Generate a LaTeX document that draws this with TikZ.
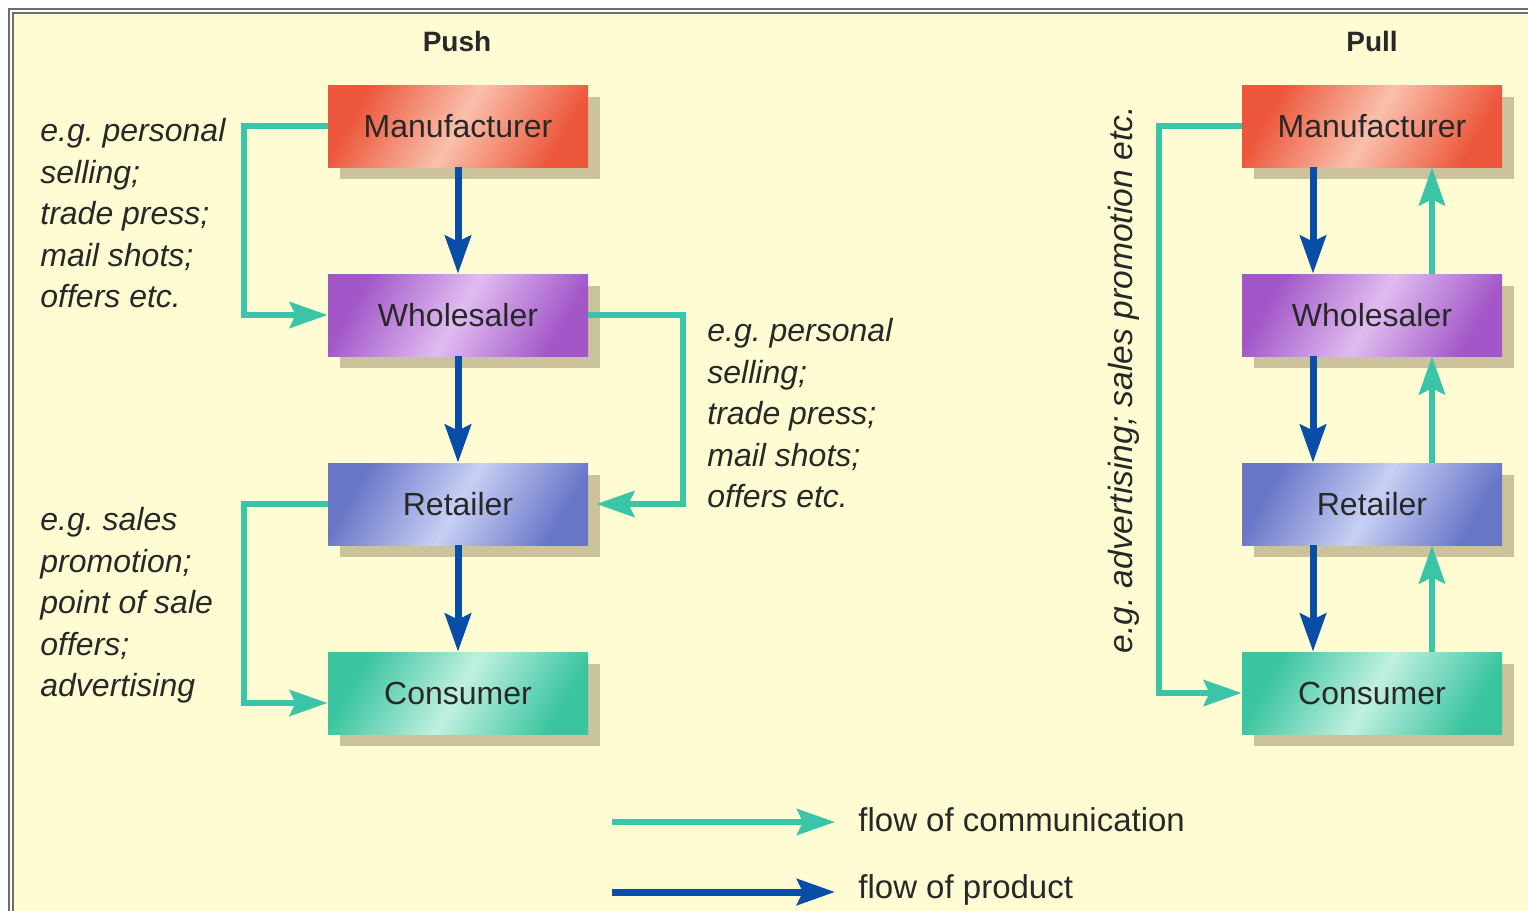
\documentclass[tikz,border=0pt]{standalone}
\usepackage{fontspec}
\setmainfont{Liberation Sans}
\usetikzlibrary{graphs}
\usetikzlibrary{shadows}
\usetikzlibrary{arrows.meta}
\definecolor{paper}{RGB}{255,252,212}
\definecolor{framec}{RGB}{110,110,110}
\definecolor{ink}{RGB}{40,40,40}
\definecolor{commc}{RGB}{58,196,168}
\definecolor{prodc}{RGB}{8,78,166}
\definecolor{shadowc}{RGB}{204,194,156}
\definecolor{redA}{RGB}{236,86,58}
\definecolor{redB}{RGB}{250,192,172}
\definecolor{purA}{RGB}{162,86,200}
\definecolor{purB}{RGB}{224,188,240}
\definecolor{bluA}{RGB}{104,118,200}
\definecolor{bluB}{RGB}{200,208,244}
\definecolor{grnA}{RGB}{58,196,160}
\definecolor{grnB}{RGB}{192,240,224}
\tikzset{
  box/.style= {minimum width=130pt, minimum height=41pt, inner sep=0,
    font=\fontsize{16}{19}\selectfont, text=ink,
    drop shadow={shadow xshift=6pt, shadow yshift=-6pt, fill=shadowc, opacity=1}},
  mbox/.style= {box, left color=redA, right color=redA, middle color=redB, shading angle=60},
  wbox/.style= {box, left color=purA, right color=purA, middle color=purB, shading angle=60},
  rbox/.style= {box, left color=bluA, right color=bluA, middle color=bluB, shading angle=60},
  cbox/.style= {box, left color=grnA, right color=grnA, middle color=grnB, shading angle=60},
  title/.style= {font=\bfseries\fontsize{14}{17}\selectfont, text=ink},
  note/.style= {anchor=north west, align=left, inner sep=0, text=ink,
    font=\itshape\fontsize{16}{20.75}\selectfont},
  legend/.style= {anchor=west, inner sep=0, text=ink, font=\fontsize{16.5}{19}\selectfont},
  comm/.style= {draw=commc, line width=3pt, -{Stealth[length=19pt, width=13pt, inset=3pt]}},
  product/.style= {draw=prodc, line width=3.5pt, -{Stealth[length=19pt, width=13pt, inset=3pt]}},
}
\frenchspacing

\begin{document}
\begin{tikzpicture}[x=0.5pt, y=-0.5pt]
  \useasboundingbox (0,0) rectangle (1528,911);
  \clip (0,0) rectangle (1528,911);
  \fill [white] (0,0) rectangle (1528,911);
  \draw [framec, line width=1pt] (8.5,8.5) rectangle (1600,1000);
  \draw [framec, fill=paper, line width=1pt] (12.5,12.5) rectangle (1600,1000);

  \node [title] (t1) at (457,41) {Push};
  \node [title] (t2) at (1372,41) {Pull};

  \node [mbox] (m1) at (458,126) {Manufacturer};
  \node [wbox] (w1) at (458,315) {Wholesaler};
  \node [rbox] (r1) at (458,504) {Retailer};
  \node [cbox] (c1) at (458,693) {Consumer};

  \node [mbox] (m2) at (1372,126) {Manufacturer};
  \node [wbox] (w2) at (1372,315) {Wholesaler};
  \node [rbox] (r2) at (1372,504) {Retailer};
  \node [cbox] (c2) at (1372,693) {Consumer};

  \graph [edges=product] {
    (m1) -> (w1) -> (r1) -> (c1) ;
  } ;

  \foreach \a/\b in {m2/w2, w2/r2, r2/c2} {
    \draw [product] ([xshift=-29.5pt]\a.south) -- ([xshift=-29.5pt]\b.north);
    \draw [comm] ([xshift=30pt]\b.north) -- ([xshift=30pt]\a.south);
  }

  \draw [comm] (m1.west) -- ++(-84,0) |- (w1.west);
  \draw [comm] (w1.east) -- ++(95,0) |- ([xshift=4pt]r1.east);
  \draw [comm] (r1.west) -- ++(-84,0) |- ([yshift=-5pt]c1.west);
  \draw [comm] (m2.west) -- ++(-83,0) |- (c2.west);

  \node [note] (n1) at (40,118) {e.g. personal\\selling;\\trade press;\\mail shots;\\offers etc.};
  \node [note] (n2) at (707,318) {e.g. personal\\selling;\\trade press;\\mail shots;\\offers etc.};
  \node [note] (n3) at (40,507) {e.g. sales\\promotion;\\point of sale\\offers;\\advertising};
  \node [note, anchor=center, rotate=90, font=\itshape\fontsize{16.8}{20}\selectfont] (n4) at (1124,380) {e.g. advertising; sales promotion etc.};

  \coordinate (s1) at (612,822);
  \coordinate (s2) at (612,892);
  \node [legend] (l1) at (858,820) {flow of communication};
  \node [legend] (l2) at (858,890) {flow of product};
  \draw [comm, shorten >=11.5pt] (s1) -- (l1.west |- s1);
  \draw [product, shorten >=11.5pt] (s2) -- (l2.west |- s2);
\end{tikzpicture}
\end{document}
